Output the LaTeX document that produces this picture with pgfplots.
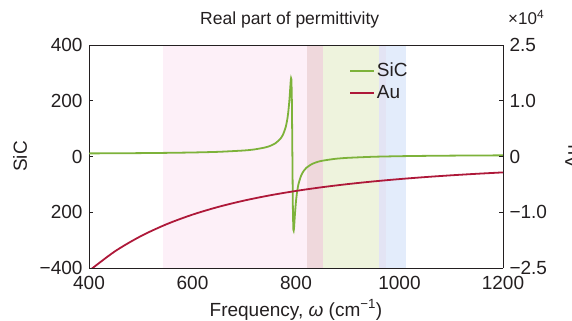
\documentclass[border=0pt]{standalone}
\usepackage{fontspec}
\setmainfont{Liberation Sans}
\usepackage{pgfplots}
\pgfplotsset{compat=1.18}
\definecolor{txt}{HTML}{231F20}
\definecolor{sicg}{HTML}{7DB23A}
\definecolor{aur}{HTML}{AE1839}
\definecolor{bpink}{HTML}{FDF0F8}
\definecolor{brose}{HTML}{EFD8DC}
\definecolor{bgreen}{HTML}{EEF3DD}
\definecolor{bblue}{HTML}{E3ECFB}
\definecolor{blav}{HTML}{E3E4F4}
\newcommand{\fs}{\fontsize{19bp}{22bp}\selectfont}
\begin{document}
\begin{tikzpicture}
\path[use as bounding box] (-89bp,-53bp) rectangle (483bp,268bp);
\pgfplotsset{
  every axis/.append style={
    scale only axis, width=414bp, height=223bp,
    at={(0,0)}, anchor=south west,
    xmin=400, xmax=1200,
    tick label style={font=\fs, text=txt},
    axis line style={txt, line width=0.8pt},
    major tick style={txt, line width=0.8pt},
    major tick length=4bp,
    tick align=inside,
    /pgf/number format/assume math mode=true,
    /pgf/number format/1000 sep={},
  }
}
\begin{axis}[
  ymin=-400, ymax=400,
  axis y line*=left, axis x line*=bottom,
  xtick={400,600,800,1000,1200},
  ytick={-400,-200,0,200,400},
  yticklabels={−400,200,0,200,400},
  xticklabel style={yshift=-5bp},
  yticklabel style={xshift=-3bp},
  legend style={draw=none, fill=none, at={(0.628,0.933)}, anchor=north west,
    font=\fs, text=txt, row sep=0pt, inner sep=0pt,
    nodes={inner sep=2bp, text height=14bp, text depth=4bp}},
  legend cell align=left,
  legend image code/.code={\draw[line width=1.8pt] (0bp,0bp) -- (24bp,0bp);},
  clip=true,
]
\fill[bpink] (axis cs:543,-400) rectangle (axis cs:821,400);
\fill[brose] (axis cs:821,-400) rectangle (axis cs:852,400);
\fill[bgreen] (axis cs:852,-400) rectangle (axis cs:974,400);
\fill[bblue] (axis cs:960,-400) rectangle (axis cs:1012,400);
\fill[blav] (axis cs:960,-400) rectangle (axis cs:974,400);
\draw[txt, line width=0.8pt] (axis cs:400,400) -- (axis cs:1200,400);
\addplot[sicg, line width=1.8pt, smooth, tension=0.4] coordinates {
(400,11.13) (450,11.57) (500,12.18) (550,13.07) (600,14.43) (650,16.77)
(700,21.66) (720,25.51) (740,32.27) (750,38.02) (760,47.24) (770,63.9)
(775,79.08) (780,105.06) (783,131.55) (785,158.0) (787,196.3) (788,221.2)
(789,249.5) (790,275.6) (791,278.5) (792,203.6) (793,6.7) (794,-189.5)
(795,-263.7) (796,-260.4) (797,-234.2) (798,-206.0) (800,-160.2) (802,-128.5)
(805,-97.5) (810,-68.05) (815,-51.34) (820,-40.63) (830,-27.75) (840,-20.30)
(850,-15.44) (875,-8.49) (900,-4.77) (950,-0.89) (1000,1.10) (1050,2.31)
(1100,3.12) (1150,3.70) (1200,4.14)
};
\addlegendentry{SiC}
\addlegendimage{aur}
\addlegendentry{Au}
\end{axis}
\begin{axis}[
  ymin=-2.5, ymax=2.5,
  axis y line*=right, axis x line=none,
  ytick={-2.5,-1.25,0,1.25,2.5},
  yticklabels={−2.5,−1.0,0,1.0,2.5},
  yticklabel style={xshift=3bp},
  clip=true,
]
\addplot[aur, line width=1.8pt, smooth] coordinates {
(400,-2.5646) (450,-2.1272) (500,-1.7866) (550,-1.5180) (600,-1.3033)
(650,-1.1297) (700,-0.9876) (750,-0.8701) (800,-0.7719) (850,-0.6891)
(900,-0.6187) (950,-0.5584) (1000,-0.5064) (1050,-0.4612) (1100,-0.4218)
(1150,-0.3871) (1200,-0.3565)
};
\end{axis}
\node[font=\fontsize{17.5bp}{20bp}\selectfont, text=txt, anchor=base west, inner sep=0pt] at (111bp,243bp) {Real part of permittivity};
\node[font=\fontsize{17bp}{20bp}\selectfont, text=txt, anchor=base west, inner sep=0pt] at (419bp,243bp) {×10\textsuperscript{4}};
\node[font=\fs, text=txt, anchor=base, inner sep=0pt] at (207bp,-48bp) {Frequency, {\itshape ω} (cm\textsuperscript{−1})};
\node[font=\fs, text=txt, rotate=90, anchor=north, inner sep=0pt] at (-76bp,111.5bp) {SiC};
\node[font=\fs, text=txt, rotate=90, anchor=north, inner sep=0pt] at (476bp,111.5bp) {Au};
\end{tikzpicture}
\end{document}
